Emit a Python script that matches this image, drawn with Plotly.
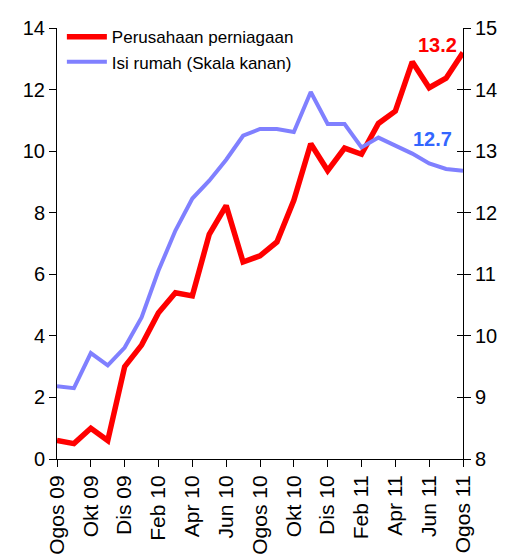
import plotly.graph_objects as go

months = list(range(25))
tick_pos = list(range(0, 25, 2))
tick_labels = ["Ogos 09", "Okt 09", "Dis 09", "Feb 10", "Apr 10", "Jun 10", "Ogos 10",
               "Okt 10", "Dis 10", "Feb 11", "Apr 11", "Jun 11", "Ogos 11"]

perusahaan = [0.6, 0.5, 1.0, 0.6, 3.0, 3.7, 4.75, 5.4, 5.3, 7.3, 8.23, 6.4, 6.6, 7.05,
              8.4, 10.24, 9.37, 10.1, 9.9, 10.9, 11.3, 12.9, 12.06, 12.37, 13.2]
isi_rumah = [9.18, 9.15, 9.72, 9.52, 9.81, 10.3, 11.06, 11.71, 12.23, 12.52, 12.86, 13.25,
             13.36, 13.36, 13.31, 13.96, 13.44, 13.44, 13.06, 13.22, 13.09, 12.96, 12.80,
             12.71, 12.68]

FONT = "Liberation Sans, Arial, sans-serif"

fig = go.Figure()
fig.add_trace(go.Scatter(x=months, y=perusahaan, mode="lines", name="Perusahaan perniagaan",
                         line=dict(color="#ff0000", width=5.5), yaxis="y"))
fig.add_trace(go.Scatter(x=months, y=isi_rumah, mode="lines", name="Isi rumah (Skala kanan)",
                         line=dict(color="#8080ff", width=4), yaxis="y2"))

fig.add_annotation(x=months[-1], y=perusahaan[-1], xref="x", yref="y",
                   text=f"<b>{perusahaan[-1]:.1f}</b>", showarrow=False,
                   xanchor="right", yanchor="middle", xshift=-4, yshift=8,
                   font=dict(family=FONT, size=20, color="#ff0000"))
fig.add_annotation(x=months[-1], y=isi_rumah[-1], xref="x", yref="y2",
                   text=f"<b>{isi_rumah[-1]:.1f}</b>", showarrow=False,
                   xanchor="right", yanchor="middle", xshift=-9, yshift=32,
                   font=dict(family=FONT, size=20, color="#3366ff"))

axis_common = dict(showgrid=False, zeroline=False, showline=True, linecolor="black",
                   linewidth=1, ticks="outside", tickcolor="black", tickwidth=1,
                   automargin=False)

# the page body has an 8px margin, so the figure is sized/positioned to compensate
fig.update_layout(
    width=504, height=549,
    margin=dict(l=49, r=49, t=19, b=98),
    paper_bgcolor="white", plot_bgcolor="white",
    font=dict(family=FONT, color="black"),
    xaxis=dict(range=[0, 24], tickmode="array", tickvals=tick_pos, ticktext=tick_labels,
               tickangle=-90, ticklen=7,
               tickfont=dict(family=FONT, size=21, color="black"), **axis_common),
    yaxis=dict(range=[0, 14], tickmode="array", tickvals=list(range(0, 15, 2)),
               ticklen=7, tickfont=dict(family=FONT, size=20, color="black"), **axis_common),
    yaxis2=dict(range=[8, 15], tickmode="array", tickvals=list(range(8, 16)),
                overlaying="y", side="right", ticklen=7,
                tickfont=dict(family=FONT, size=20, color="black"), **axis_common),
    yaxis3=dict(range=[8, 15], tickmode="array", tickvals=list(range(8, 16)),
                overlaying="y", side="right", showticklabels=False, showgrid=False,
                zeroline=False, showline=False, ticks="inside", ticklen=6,
                tickcolor="black", tickwidth=1, automargin=False),
    showlegend=True,
    legend=dict(x=0.012, y=1.018, xanchor="left", yanchor="top", bgcolor="rgba(0,0,0,0)",
                borderwidth=0, font=dict(family=FONT, size=17, color="black"),
                tracegroupgap=0, itemwidth=40),
)

# dummy trace to activate yaxis3 (inside ticks on right axis)
fig.add_trace(go.Scatter(x=[None], y=[None], yaxis="y3", showlegend=False, hoverinfo="skip"))

fig.write_html("out.html")
